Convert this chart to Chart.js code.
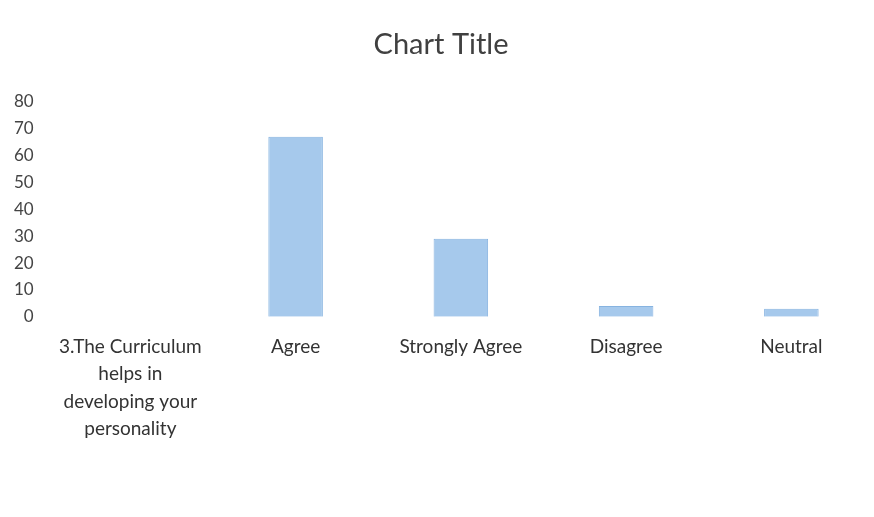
<!DOCTYPE html>
<html>
<head>
<meta charset="utf-8">
<script src="https://cdn.jsdelivr.net/npm/chart.js@4/dist/chart.umd.min.js"></script>
<style>
html,body{margin:0;padding:0;background:#fff;}
#wrap{width:874px;height:517px;position:relative;}
</style>
</head>
<body>
<div id="wrap"><canvas id="c"></canvas></div>
<script>
const categories = [
  ["3.The Curriculum", "helps in", "developing your", "personality"],
  "Agree",
  "Strongly Agree",
  "Disagree",
  "Neutral"
];
const seriesValues = [null, 67, 29, 4, 3];
const yTicks = [0, 10, 20, 30, 40, 50, 60, 70, 80];

new Chart(document.getElementById('c'), {
  type: 'bar',
  data: {
    labels: categories,
    datasets: [{
      data: seriesValues,
      backgroundColor: '#A6C9EC',
      borderColor: '#86B3E0',
      borderWidth: 1,
      barPercentage: 0.33,
      categoryPercentage: 1
    }]
  },
  options: {
    responsive: true,
    maintainAspectRatio: false,
    animation: false,
    layout: { padding: { top: 27, right: 0, bottom: 66, left: 8 } },
    plugins: {
      legend: { display: false },
      tooltip: { enabled: false },
      title: {
        display: true,
        text: 'Chart Title',
        color: '#404040',
        font: { family: 'Lato', size: 29, weight: 'normal' },
        padding: { top: 0, bottom: 40 }
      }
    },
    scales: {
      x: {
        grid: { display: false },
        border: { display: false },
        ticks: {
          color: '#333',
          font: { family: 'Lato', size: 19, lineHeight: 1.45 },
          padding: 8,
          maxRotation: 0,
          autoSkip: false
        }
      },
      y: {
        min: 0,
        max: 80,
        afterBuildTicks: (axis) => { axis.ticks = yTicks.map(v => ({ value: v })); },
        grid: { display: false },
        border: { display: false },
        ticks: {
          color: '#444',
          font: { family: 'Lato', size: 17 },
          padding: 6
        }
      }
    }
  }
});
</script>
</body>
</html>
